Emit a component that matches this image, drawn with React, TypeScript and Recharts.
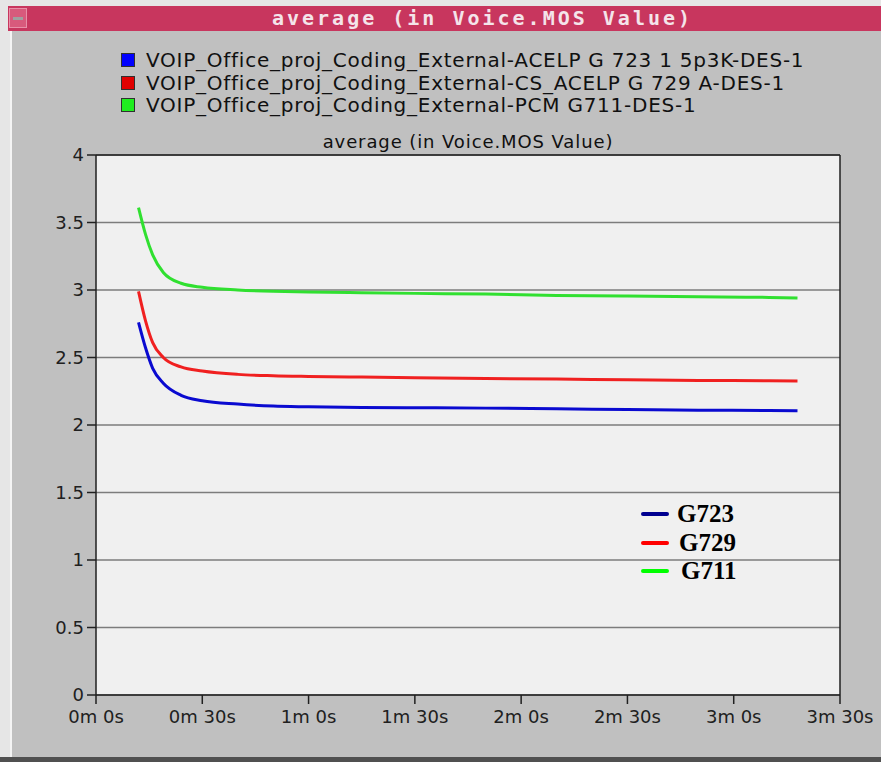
import React from 'react';
import {
  LineChart,
  Line,
  XAxis,
  YAxis,
  CartesianGrid,
  Legend,
  ReferenceLine,
} from 'recharts';

// seconds since start of simulation
const times = [12, 14, 16, 19, 24, 30, 40, 50, 60, 75, 90, 110, 130, 150, 170, 190, 198];

const g723 = [2.76, 2.57, 2.42, 2.31, 2.22, 2.18, 2.155, 2.14, 2.135, 2.13, 2.128, 2.125, 2.12, 2.115, 2.11, 2.107, 2.105];
const g729 = [2.99, 2.77, 2.61, 2.5, 2.43, 2.4, 2.375, 2.365, 2.36, 2.355, 2.35, 2.345, 2.34, 2.335, 2.33, 2.328, 2.326];
const g711 = [3.61, 3.41, 3.26, 3.13, 3.05, 3.02, 3.0, 2.99, 2.985, 2.98, 2.975, 2.97, 2.96, 2.955, 2.95, 2.945, 2.94];

const seriesNames = [
  'VOIP_Office_proj_Coding_External-ACELP G 723 1 5p3K-DES-1',
  'VOIP_Office_proj_Coding_External-CS_ACELP G 729 A-DES-1',
  'VOIP_Office_proj_Coding_External-PCM G711-DES-1',
];
const codecLabels = ['G723', 'G729', 'G711'];

const xTicks = [0, 30, 60, 90, 120, 150, 180, 210];
const xTickLabels = ['0m 0s', '0m 30s', '1m 0s', '1m 30s', '2m 0s', '2m 30s', '3m 0s', '3m 30s'];
const yTicks = [0, 0.5, 1, 1.5, 2, 2.5, 3, 3.5, 4];

const title = 'average (in Voice.MOS Value)';

const data = times.map((t, i) => ({ t, g723: g723[i], g729: g729[i], g711: g711[i] }));

const lineColors = ['#0a0ad0', '#f02020', '#30e030'];
const swatchColors = ['#0000ff', '#e00000', '#20ee20'];
const codecColors = ['#000090', '#ff0000', '#00ff00'];

const font = "'DejaVu Sans', sans-serif";

function TopLegend(props: any) {
  const payload = props.payload || [];
  return (
    <div style={{ fontFamily: font, fontSize: 20, color: '#101010' }}>
      {payload.map((p: any, i: number) => (
        <div key={i} style={{ display: 'flex', alignItems: 'center', height: 22.5 }}>
          <span
            style={{
              width: 12,
              height: 12,
              background: swatchColors[i],
              border: '1px solid #303030',
              marginRight: 11,
              display: 'inline-block',
            }}
          />
          <span style={{ letterSpacing: 0.75, whiteSpace: 'nowrap' }}>{p.value}</span>
        </div>
      ))}
    </div>
  );
}

export default function App() {
  return (
    <div
      style={{
        position: 'absolute',
        left: 0,
        top: 0,
        width: 881,
        height: 762,
        background: '#e6e6e6',
        overflow: 'hidden',
      }}
    >
      {/* window panel */}
      <div
        style={{
          position: 'absolute',
          left: 10,
          top: 6,
          width: 871,
          height: 751,
          background: '#c0c0c0',
          borderLeft: '2px solid #f4f4f4',
          boxSizing: 'border-box',
        }}
      />
      <div style={{ position: 'absolute', left: 0, top: 757, width: 881, height: 5, background: '#505050' }} />
      {/* title bar */}
      <div
        style={{
          position: 'absolute',
          left: 8,
          top: 6,
          width: 873,
          height: 25,
          background: '#c8365e',
          color: '#f4e4ea',
          fontFamily: "'DejaVu Sans Mono', monospace",
          fontWeight: 'bold',
          fontSize: 20,
          letterSpacing: 3,
          textAlign: 'center',
          lineHeight: '25px',
          paddingLeft: 76,
          boxSizing: 'border-box',
        }}
      >
        {title}
      </div>
      <div
        style={{
          position: 'absolute',
          left: 9,
          top: 8,
          width: 18,
          height: 20,
          background: '#d85a7c',
          border: '1px solid #e890a8',
          boxSizing: 'border-box',
        }}
      >
        <div style={{ position: 'absolute', left: 3, top: 8, width: 10, height: 3, background: '#a0a0a0' }} />
      </div>
      {/* subtitle */}
      <div
        style={{
          position: 'absolute',
          left: 96,
          top: 131,
          width: 744,
          textAlign: 'center',
          fontFamily: font,
          fontSize: 18,
          letterSpacing: 0.9,
          color: '#101010',
        }}
      >
        {title}
      </div>

      <div style={{ position: 'absolute', left: 0, top: 0 }}>
        <LineChart width={881} height={762} data={data} margin={{ top: 155, right: 41, left: 0, bottom: 37 }}>
          <CartesianGrid vertical={false} stroke="#7c7c7c" strokeWidth={1.5} fill="#f0f0f0" />
          <XAxis
            dataKey="t"
            type="number"
            domain={[0, 210]}
            ticks={xTicks}
            tickFormatter={(v: number) => xTickLabels[xTicks.indexOf(v)]}
            height={30}
            tickSize={9}
            tickMargin={6}
            stroke="#202020"
            strokeWidth={1.5}
            tick={{ fill: '#202020', fontSize: 18, fontFamily: font }}
            interval={0}
          />
          <YAxis
            type="number"
            domain={[0, 4]}
            ticks={yTicks}
            width={96}
            tickSize={9}
            tickMargin={3}
            stroke="#202020"
            strokeWidth={1.5}
            tick={{ fill: '#202020', fontSize: 18, fontFamily: font }}
            interval={0}
          />
          <ReferenceLine y={4} stroke="#202020" strokeWidth={1.5} />
          <ReferenceLine x={210} stroke="#202020" strokeWidth={1.5} />
          <Legend
            layout="vertical"
            align="center"
            verticalAlign="middle"
            content={TopLegend}
            wrapperStyle={{ position: 'absolute', left: 121, top: 49, width: 740, height: 70 }}
          />
          <Line
            name={seriesNames[0]}
            dataKey="g723"
            type="monotone"
            stroke={lineColors[0]}
            strokeWidth={3}
            dot={false}
            isAnimationActive={false}
          />
          <Line
            name={seriesNames[1]}
            dataKey="g729"
            type="monotone"
            stroke={lineColors[1]}
            strokeWidth={3}
            dot={false}
            isAnimationActive={false}
          />
          <Line
            name={seriesNames[2]}
            dataKey="g711"
            type="monotone"
            stroke={lineColors[2]}
            strokeWidth={3}
            dot={false}
            isAnimationActive={false}
          />
        </LineChart>
      </div>

      {/* inner codec labels */}
      <div style={{ position: 'absolute', left: 641, top: 500 }}>
        {codecLabels.map((label, i) => (
          <div key={label} style={{ display: 'flex', alignItems: 'center', height: 28.5 }}>
            <span
              style={{
                display: 'inline-block',
                width: 28,
                height: 4,
                borderRadius: 2,
                background: codecColors[i],
                marginRight: 8 + i * 2,
              }}
            />
            <span
              style={{
                fontFamily: "'Liberation Serif', serif",
                fontWeight: 'bold',
                fontSize: 25,
                color: '#000',
              }}
            >
              {label}
            </span>
          </div>
        ))}
      </div>
    </div>
  );
}
